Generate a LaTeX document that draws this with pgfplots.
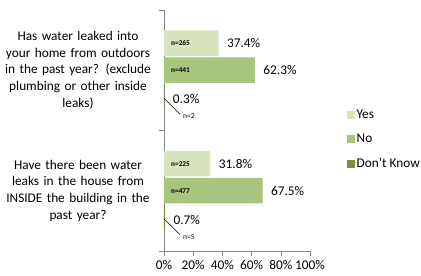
\documentclass[border=0pt]{standalone}
\usepackage{pgfplots}
\pgfplotsset{compat=1.18}
\usetikzlibrary{calc}
\usepackage{fontspec}
\setmainfont{Carlito}
\definecolor{yescol}{HTML}{D7E4BD}
\definecolor{nocol}{HTML}{A9C47F}
\definecolor{dkcol}{HTML}{77933C}
\definecolor{axgray}{HTML}{868686}
\begin{document}
\begin{tikzpicture}
\begin{axis}[
  at={(0,0)}, anchor=south west,
  scale only axis, width=146bp, height=241bp,
  xmin=0, xmax=100, ymin=-0.5, ymax=1.5,
  xbar, bar width=25.5bp,
  axis lines*=left,
  axis line style={draw=axgray},
  xtick={0,20,40,60,80,100},
  xticklabel={\pgfmathprintnumber{\tick}\%},
  /pgf/number format/assume math mode=true,
  tick align=outside,
  major tick length=4.5bp,
  xtick style={draw=axgray},
  ytick={0,1},
  yticklabels={{Have there been water\\leaks in the house from\\INSIDE the building in the\\past year?},{Has water leaked into\\your home from outdoors\\in the past year? (exclude\\plumbing or other inside\\leaks)}},
  ytick style={draw=none},
  extra y ticks={-0.5,0.5,1.5},
  extra y tick labels={},
  extra y tick style={ytick style={draw=axgray}},
  yticklabel style={align=center, text width=150bp, font=\fontsize{13.3bp}{16.6bp}\selectfont, xshift=-3bp},
  xticklabel style={font=\fontsize{13.3bp}{16bp}\selectfont, yshift=-1bp},
  nodes near coords={\pgfmathprintnumber[fixed,fixed zerofill,precision=1]{\pgfplotspointmeta}\%},
  nodes near coords style={anchor=west, xshift=5bp, font=\fontsize{13.3bp}{16bp}\selectfont, text=black},
  legend style={at={(rel axis cs:1.25,0.593)}, anchor=north west, draw=none, fill=none,
    font=\fontsize{13.3bp}{16bp}\selectfont, row sep=10bp, inner sep=0pt},
  legend image code/.code={\fill[#1] (0bp,-4bp) rectangle (8bp,4bp);},
  legend cell align=left,
  clip=false,
]
\addplot[fill=yescol, draw=none, bar shift=27bp] coordinates {(31.8,0) (37.4,1)};
\addplot[fill=nocol, draw=none, bar shift=0bp] coordinates {(67.5,0) (62.3,1)};
\addplot[fill=dkcol, draw=none, bar shift=-27bp, nodes near coords style={yshift=-2bp}] coordinates {(0.7,0) (0.3,1)};
\legend{Yes,No,Don't Know}
\begin{scope}[font=\bfseries\fontsize{7.3bp}{8bp}\selectfont]
\node[anchor=west, inner sep=0pt] at ($(axis cs:0,1)+(7bp,27bp)$) {n=265};
\node[anchor=west, inner sep=0pt] at ($(axis cs:0,1)+(7bp,0bp)$) {n=441};
\node[anchor=west, inner sep=0pt] at ($(axis cs:0,0)+(7bp,27bp)$) {n=225};
\node[anchor=west, inner sep=0pt] at ($(axis cs:0,0)+(7bp,0bp)$) {n=477};
\end{scope}
\begin{scope}[font=\fontsize{7.5bp}{8bp}\selectfont]
\draw[black, line width=0.5pt] ($(axis cs:0,1)+(0bp,-28bp)$) -- ($(axis cs:0,1)+(16bp,-44bp)$);
\node[anchor=west, inner sep=0pt] at ($(axis cs:0,1)+(19bp,-46bp)$) {n=2};
\draw[black, line width=0.5pt] ($(axis cs:0,0)+(0bp,-28bp)$) -- ($(axis cs:0,0)+(16bp,-44bp)$);
\node[anchor=west, inner sep=0pt] at ($(axis cs:0,0)+(19bp,-46bp)$) {n=5};
\end{scope}
\end{axis}
\pgfresetboundingbox
\path[use as bounding box] (-164bp,-25bp) rectangle (257bp,251bp);
\end{tikzpicture}
\end{document}
